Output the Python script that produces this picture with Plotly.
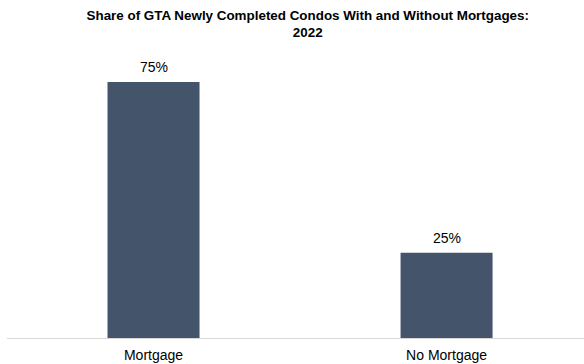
import plotly.graph_objects as go

categories = ["Mortgage", "No Mortgage"]
shares = [75, 25]
labels = ["75%", "25%"]

bar_color = "#44546A"

fig = go.Figure()
fig.add_trace(go.Bar(x=categories, y=shares, marker=dict(color=bar_color, line=dict(width=0)),
                     hoverinfo="skip"))

for c, v, t in zip(categories, shares, labels):
    fig.add_annotation(x=c, y=v, text=t, showarrow=False, yanchor="bottom", yshift=5,
                       font=dict(family="Liberation Sans, Arial", size=14, color="#000000"))

fig.update_layout(
    width=584, height=364,
    margin=dict(l=7, r=0, t=65, b=26),
    paper_bgcolor="white", plot_bgcolor="white",
    showlegend=False,
    bargap=0.686,
    title=dict(text="<b>Share of GTA Newly Completed Condos With and Without Mortgages:<br>2022</b>",
               x=0.527, xanchor="center", y=0.945, yanchor="top",
               font=dict(family="Liberation Sans, Arial", size=13.4, color="#000000")),
    xaxis=dict(range=[-0.5, 1.469], showline=True, linecolor="#d9d9d9", linewidth=1,
               ticks="outside", ticklen=4, tickcolor="rgba(0,0,0,0)",
               tickfont=dict(family="Liberation Sans, Arial", size=14, color="#000000"),
               showgrid=False, zeroline=False, fixedrange=True),
    yaxis=dict(range=[0, 80], visible=False, showgrid=False, zeroline=False, fixedrange=True),
)

fig.write_html("out.html")
